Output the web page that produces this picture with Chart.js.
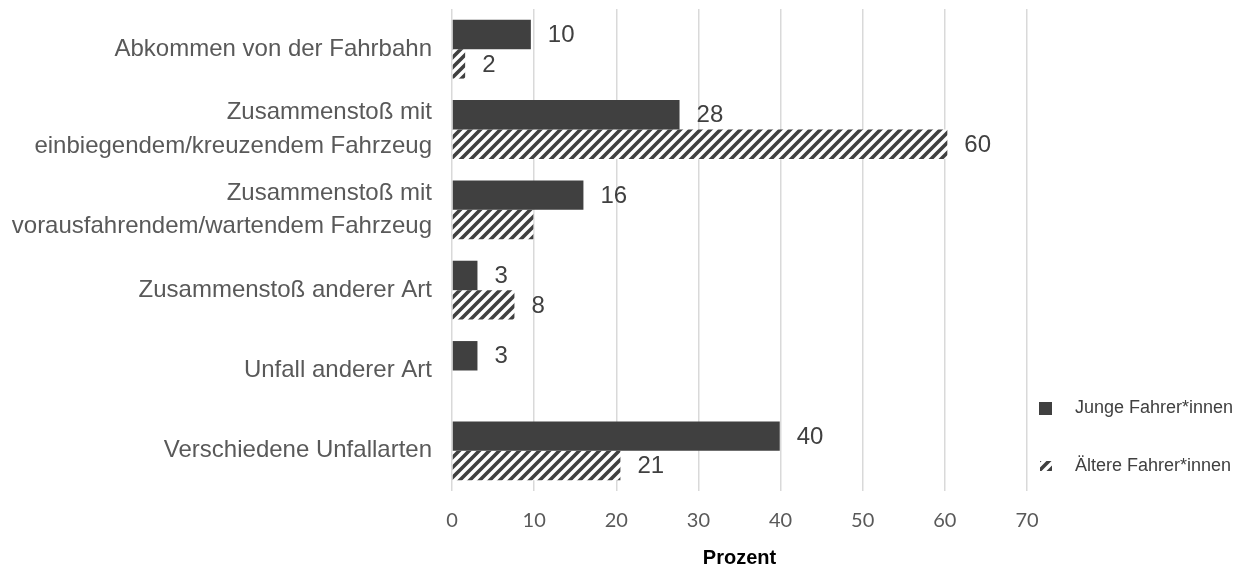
<!DOCTYPE html>
<html lang="de">
<head>
<meta charset="utf-8">
<title>Unfallarten nach Altersgruppe</title>
<script src="https://cdn.jsdelivr.net/npm/chart.js@4/dist/chart.umd.min.js"></script>
<style>
  html, body { margin: 0; padding: 0; background: #fff; }
  #wrap { width: 1239px; height: 577px; }
</style>
</head>
<body>
<div id="wrap"><canvas id="chart" width="1239" height="577"></canvas></div>
<script>
// ── Daten ─────────────────────────────────────
const kategorien = [
  'Abkommen von der Fahrbahn',
  ['Zusammenstoß mit', 'einbiegendem/kreuzendem Fahrzeug'],
  ['Zusammenstoß mit', 'vorausfahrendem/wartendem Fahrzeug'],
  'Zusammenstoß anderer Art',
  'Unfall anderer Art',
  'Verschiedene Unfallarten'
];
const jungeWerte  = [9.6, 27.7, 16.0, 3.1, 3.1, 39.9];
const aeltereWerte = [1.6, 60.3, 9.9, 7.6, null, 20.5];
// welche Balken eine Beschriftung tragen
const jungeLabel  = [true, true, true, true, true, true];
const aeltereLabel = [true, true, false, true, false, true];
const xTicks = [0, 10, 20, 30, 40, 50, 60, 70];

const DUNKEL = '#404040';
const GRAU   = '#595959';

// ── Schraffur ────────────────────────────────
function schraffur() {
  const c = document.createElement('canvas');
  c.width = 10; c.height = 10;
  const g = c.getContext('2d');
  g.fillStyle = '#fff';
  g.fillRect(0, 0, 10, 10);
  g.strokeStyle = DUNKEL;
  g.lineWidth = 3.6;
  g.beginPath();
  g.moveTo(-5, 5);  g.lineTo(5, -5);
  g.moveTo(0, 10);  g.lineTo(10, 0);
  g.moveTo(5, 15);  g.lineTo(15, 5);
  g.stroke();
  return document.getElementById('chart').getContext('2d').createPattern(c, 'repeat');
}
const muster = schraffur();

// ── Datenbeschriftungen ──────────────────────
const wertLabels = {
  id: 'wertLabels',
  afterDatasetsDraw(chart) {
    const ctx = chart.ctx;
    const flags = [jungeLabel, aeltereLabel];
    ctx.save();
    ctx.font = '24px "Liberation Sans", Arial, sans-serif';
    ctx.fillStyle = DUNKEL;
    ctx.textAlign = 'left';
    ctx.textBaseline = 'middle';
    chart.data.datasets.forEach((ds, di) => {
      chart.getDatasetMeta(di).data.forEach((bar, i) => {
        const v = ds.data[i];
        if (v == null || !flags[di][i]) return;
        ctx.fillText(String(Math.round(v)), bar.x + 17, bar.y + 1);
      });
    });
    ctx.restore();
  }
};

// ── Legende (rechts unten) ───────────────────
const legendeRechts = {
  id: 'legendeRechts',
  afterDraw(chart) {
    const ctx = chart.ctx;
    const ys = [408, 466];
    ctx.save();
    ctx.font = '18px "Liberation Sans", Arial, sans-serif';
    ctx.textBaseline = 'middle';
    chart.data.datasets.forEach((ds, i) => {
      const y = ys[i];
      ctx.fillStyle = ds.backgroundColor;
      if (i === 0) ctx.fillRect(1039, y - 6, 13, 13);
      else ctx.fillRect(1040, y - 5, 12, 10);
      ctx.fillStyle = DUNKEL;
      ctx.fillText(ds.label, 1075, y);
    });
    ctx.restore();
  }
};

new Chart(document.getElementById('chart').getContext('2d'), {
  type: 'bar',
  data: {
    labels: kategorien,
    datasets: [
      { label: 'Junge Fahrer*innen',  data: jungeWerte,  backgroundColor: DUNKEL },
      { label: 'Ältere Fahrer*innen', data: aeltereWerte, backgroundColor: muster }
    ]
  },
  options: {
    indexAxis: 'y',
    responsive: false,
    animation: false,
    categoryPercentage: 0.733,
    barPercentage: 1,
    layout: { padding: { left: 0, right: 212, top: 9, bottom: 0 } },
    plugins: {
      legend: { display: false },
      tooltip: { enabled: false }
    },
    scales: {
      x: {
        min: 0, max: 70,
        afterBuildTicks: s => { s.ticks = xTicks.map(v => ({ value: v })); },
        afterFit: s => { s.height = 86; s.paddingLeft = 0; s.paddingRight = 0; },
        border: { display: false },
        grid: { color: '#d9d9d9', lineWidth: 1.5, drawTicks: false },
        ticks: { color: GRAU, padding: 18, font: { family: 'Lato, "Open Sans", sans-serif', size: 20 } },
        title: {
          display: true, text: 'Prozent', color: '#000',
          font: { family: '"Liberation Sans", Arial, sans-serif', size: 20, weight: 'bold' },
          padding: { top: 0, bottom: 7 }
        }
      },
      y: {
        afterFit: s => { s.width = 452; s.paddingTop = 0; s.paddingBottom = 0; },
        border: { display: false },
        grid: { display: false, drawTicks: false },
        ticks: {
          color: GRAU, padding: 20,
          font: { family: '"Liberation Sans", Arial, sans-serif', size: 24, lineHeight: 1.4 }
        }
      }
    }
  },
  plugins: [wertLabels, legendeRechts]
});
</script>
</body>
</html>
